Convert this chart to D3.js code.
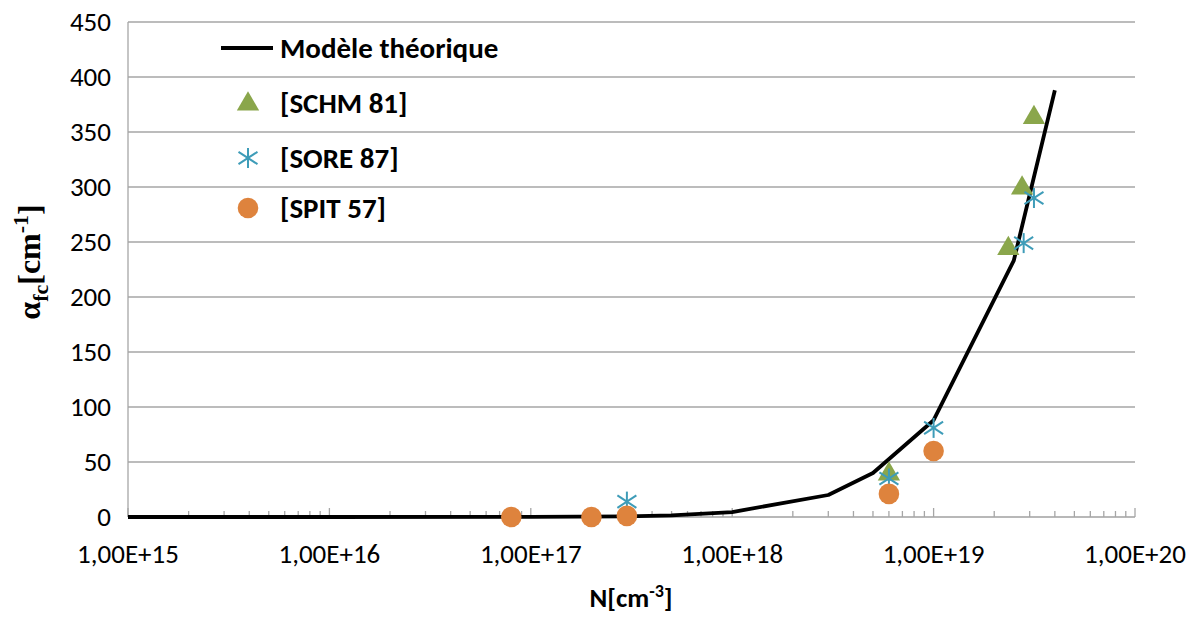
<!DOCTYPE html>
<html><head><meta charset="utf-8">
<script src="https://cdn.jsdelivr.net/npm/d3@7"></script>
<style>body{margin:0;background:#fff}</style>
</head><body>
<svg id="c" width="1199" height="617"></svg>
<script>
const modelN = [1e15, 1e16, 1e17, 3e17, 5e17, 1e18, 3e18, 5e18, 1e19, 2.5e19, 4e19];
const modelA = [0, 0, 0.1, 0.5, 1.5, 4.5, 20, 40, 88, 233, 388];
const schmN = [6e18, 2.35e19, 2.75e19, 3.15e19];
const schmA = [40, 245, 300, 364];
const soreN = [3e17, 6e18, 1e19, 2.8e19, 3.15e19];
const soreA = [14, 35, 81, 249, 290];
const spitN = [8e16, 2e17, 3e17, 6e18, 1e19];
const spitA = [0, 0, 1, 21, 60];
const xTickVals = [1e15, 1e16, 1e17, 1e18, 1e19, 1e20];
const xTickLabels = ["1,00E+15", "1,00E+16", "1,00E+17", "1,00E+18", "1,00E+19", "1,00E+20"];
const yTickVals = [0, 50, 100, 150, 200, 250, 300, 350, 400, 450];
const legendLabels = ["Modèle théorique", "[SCHM 81]", "[SORE 87]", "[SPIT 57]"];
const colors = {schm: "#8AA64B", sore: "#3E9CB8", spit: "#DE833D"};

const svg = d3.select("#c");
const x = d3.scaleLog().domain([1e15, 1e20]).range([128, 1135]);
const y = d3.scaleLinear().domain([0, 450]).range([517, 22]);
const font = "Carlito, 'Open Sans', 'Liberation Sans', sans-serif";

// gridlines
svg.append("g").selectAll("line").data(yTickVals.filter(v => v > 0)).join("line")
  .attr("x1", 128).attr("x2", 1135).attr("y1", d => y(d)).attr("y2", d => y(d))
  .attr("stroke", "#a6a6a6").attr("stroke-width", 1.3);
// y axis line
svg.append("line").attr("x1", 128).attr("x2", 128).attr("y1", 22).attr("y2", 517)
  .attr("stroke", "#a6a6a6").attr("stroke-width", 1.3);
// x axis line
svg.append("line").attr("x1", 128).attr("x2", 1135).attr("y1", 517).attr("y2", 517)
  .attr("stroke", "#a0a0a0").attr("stroke-width", 1.5);
// x ticks (upward)
const minor = [];
for (let e = 15; e < 20; e++) for (let m = 2; m <= 9; m++) minor.push(m * Math.pow(10, e));
svg.append("g").selectAll("line").data(minor).join("line")
  .attr("x1", d => x(d)).attr("x2", d => x(d)).attr("y1", 517).attr("y2", 511)
  .attr("stroke", "#a6a6a6").attr("stroke-width", 1.3);
svg.append("g").selectAll("line").data(xTickVals).join("line")
  .attr("x1", d => x(d)).attr("x2", d => x(d)).attr("y1", 517).attr("y2", 508)
  .attr("stroke", "#a6a6a6").attr("stroke-width", 1.3);

// tick labels
svg.append("g").selectAll("text").data(xTickVals).join("text")
  .attr("x", d => x(d)).attr("y", 563).attr("text-anchor", "middle")
  .attr("font-family", font).attr("font-size", 27).attr("fill", "#000")
  .text((d, i) => xTickLabels[i]);
svg.append("g").selectAll("text").data(yTickVals).join("text")
  .attr("x", 111).attr("y", d => y(d) + 9).attr("text-anchor", "end")
  .attr("font-family", font).attr("font-size", 27).attr("fill", "#000")
  .text(d => d);

// axis titles
const xt = svg.append("text").attr("x", 631).attr("y", 607).attr("text-anchor", "middle")
  .attr("font-family", font).attr("font-size", 27).attr("font-weight", "bold");
xt.append("tspan").text("N[cm");
xt.append("tspan").attr("dy", -10).attr("font-size", 18).text("-3");
xt.append("tspan").attr("dy", 10).text("]");

const yt = svg.append("text").attr("transform", "translate(40,262) rotate(-90)")
  .attr("text-anchor", "middle").attr("font-family", "'Liberation Serif', 'DejaVu Serif', serif")
  .attr("font-size", 32).attr("font-weight", "bold");
yt.append("tspan").text("α");
yt.append("tspan").attr("dy", 8).attr("font-size", 22).text("fc");
yt.append("tspan").attr("dy", -8).text("[cm");
yt.append("tspan").attr("dy", -12).attr("font-size", 22).text("-1");
yt.append("tspan").attr("dy", 12).text("]");

// model line
const line = d3.line().x(d => x(d[0])).y(d => y(d[1]));
svg.append("path").datum(modelN.map((n, i) => [n, modelA[i]]))
  .attr("d", line).attr("fill", "none").attr("stroke", "#000").attr("stroke-width", 3.8)
  .attr("stroke-linejoin", "round");

// markers
const tri = d3.symbol().type(d3.symbolTriangle).size(215);
function star(g, cx, cy) {
  const r = 10;
  const s = g.append("g").attr("transform", `translate(${cx},${cy})`)
    .attr("stroke", colors.sore).attr("stroke-width", 2);
  s.append("line").attr("x1", 0).attr("x2", 0).attr("y1", -r).attr("y2", r);
  s.append("line").attr("x1", -r * 0.95).attr("x2", r * 0.95).attr("y1", -r * 0.62).attr("y2", r * 0.62);
  s.append("line").attr("x1", -r * 0.95).attr("x2", r * 0.95).attr("y1", r * 0.62).attr("y2", -r * 0.62);
}
svg.append("g").selectAll("path").data(schmN.map((n, i) => [n, schmA[i]])).join("path")
  .attr("d", tri).attr("fill", colors.schm)
  .attr("transform", d => `translate(${x(d[0])},${y(d[1]) + 1})`);
const sg = svg.append("g");
soreN.forEach((n, i) => star(sg, x(n), y(soreA[i])));
svg.append("g").selectAll("circle").data(spitN.map((n, i) => [n, spitA[i]])).join("circle")
  .attr("cx", d => x(d[0])).attr("cy", d => y(d[1])).attr("r", 10.3).attr("fill", colors.spit);

// legend
const lg = svg.append("g");
const ly = [48, 103, 158, 208];
lg.append("line").attr("x1", 221).attr("x2", 273).attr("y1", ly[0]).attr("y2", ly[0])
  .attr("stroke", "#000").attr("stroke-width", 3.8);
lg.append("path").attr("d", tri).attr("fill", colors.schm).attr("transform", `translate(248,${ly[1] + 1})`);
star(lg, 248, ly[2]);
lg.append("circle").attr("cx", 248).attr("cy", ly[3]).attr("r", 10.3).attr("fill", colors.spit);
lg.selectAll("text").data(legendLabels).join("text")
  .attr("x", 280).attr("y", (d, i) => ly[i] + 10)
  .attr("font-family", font).attr("font-size", 29).attr("font-weight", "bold").text(d => d);
</script>
</body></html>
